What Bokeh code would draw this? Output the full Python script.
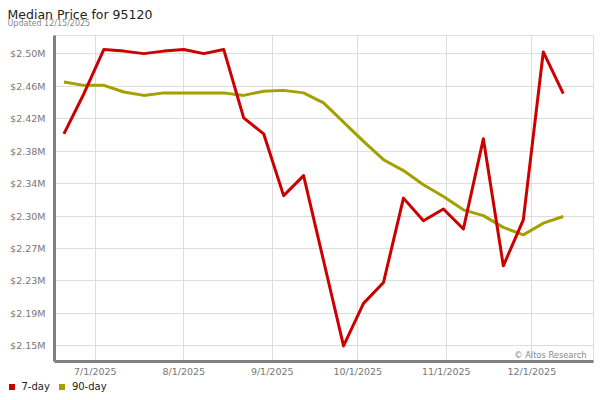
import numpy as np
import pandas as pd
from bokeh.plotting import figure
from bokeh.layouts import column
from bokeh.models import (ColumnDataSource, FixedTicker, Label, Legend, LegendItem, Range1d)
from bokeh.embed import file_html
from bokeh.resources import INLINE

# ---------------- data ----------------
dates = ["2025-06-20", "2025-06-27", "2025-07-04", "2025-07-11", "2025-07-18", "2025-07-25",
         "2025-08-01", "2025-08-08", "2025-08-15", "2025-08-22", "2025-08-29", "2025-09-05",
         "2025-09-12", "2025-09-19", "2025-09-26", "2025-10-03", "2025-10-10", "2025-10-17",
         "2025-10-24", "2025-10-31", "2025-11-07", "2025-11-14", "2025-11-21", "2025-11-28",
         "2025-12-05", "2025-12-12"]
price_7day = [2404000, 2452000, 2505000, 2503000, 2500000, 2503000, 2505000, 2500000, 2505000,
              2423000, 2404000, 2330000, 2354000, 2252000, 2150000, 2201000, 2226000, 2327000,
              2300000, 2314000, 2290000, 2398000, 2246000, 2301000, 2502000, 2452000]
price_90day = [2466000, 2462000, 2462000, 2454000, 2450000, 2453000, 2453000, 2453000, 2453000,
               2450000, 2455000, 2456000, 2453000, 2441000, 2418000, 2395000, 2373000, 2360000,
               2343000, 2329000, 2313000, 2306000, 2292000, 2283000, 2297000, 2305000]
x_tick_labels = ["7/1/2025", "8/1/2025", "9/1/2025", "10/1/2025", "11/1/2025", "12/1/2025"]
y_tick_labels = ["$2.15M", "$2.19M", "$2.23M", "$2.27M", "$2.30M", "$2.34M", "$2.38M",
                 "$2.42M", "$2.46M", "$2.50M"]
series_names = ["7-day", "90-day"]
title_text = "Median Price for 95120"
subtitle_text = "Updated 12/15/2025"
credit_text = "\u00a9 Altos Research"

# ---------------- helpers ----------------
def to_ms(ts):
    return (pd.to_datetime(ts).astype("int64") // 10**6).astype(float)

x_ms = list(to_ms(pd.Series(dates)))
x_ticks = list(to_ms(pd.Series(pd.to_datetime(x_tick_labels, format="%m/%d/%Y"))))
y_ticks = list(np.linspace(2150000, 2500000, len(y_tick_labels)))

DAY = 86400000.0
x_start = x_ms[0] - 3.3 * DAY
x_end = x_ms[-1] + 10.6 * DAY

src = ColumnDataSource(dict(x=x_ms, a=price_7day, b=price_90day))

RED = "#cc0000"
OLIVE = "#a3a000"
FONT = "DejaVu Sans"


def no_frame_align(fig):
    if "frame_align" in fig.properties():
        fig.frame_align = False


def strip(height):
    f = figure(width=600, height=height, output_backend="svg", toolbar_location=None, title=None,
               x_range=Range1d(0, 1), y_range=Range1d(0, 1),
               x_axis_location=None, y_axis_location=None,
               min_border=0, min_border_left=0, min_border_right=0, min_border_top=0,
               min_border_bottom=0, outline_line_color=None,
               background_fill_color="white", border_fill_color="white")
    f.xgrid.visible = False
    f.ygrid.visible = False
    no_frame_align(f)
    return f


# ---------------- header ----------------
head = strip(35)
head.add_layout(Label(x=7, y=21.5, x_units="screen", y_units="screen", text=title_text,
                      text_font=FONT, text_font_size="12.5px", text_color="#222222",
                      text_baseline="alphabetic"))
head.add_layout(Label(x=7, y=12, x_units="screen", y_units="screen", text=subtitle_text,
                      text_font=FONT, text_font_size="8px", text_color="#888888",
                      text_baseline="alphabetic"))

# ---------------- main plot ----------------
p = figure(width=600, height=344, output_backend="svg", toolbar_location=None, title=None,
           x_range=Range1d(x_start, x_end), y_range=Range1d(2131400, 2521700),
           min_border_left=54, min_border_right=7, min_border_top=0, min_border_bottom=15,
           background_fill_color="white", border_fill_color="white",
           outline_line_color="#dddddd", outline_line_width=1)
no_frame_align(p)

for ax in (p.xaxis[0], p.yaxis[0]):
    ax.axis_line_color = "#808080"
    ax.axis_line_width = 3
    ax.major_tick_line_color = None
    ax.minor_tick_line_color = None
    ax.major_tick_out = 0
    ax.major_tick_in = 0
    ax.major_label_text_font = FONT
    ax.major_label_text_font_size = "9.5px"
    ax.major_label_text_color = "#777777"

p.xaxis.ticker = FixedTicker(ticks=x_ticks)
p.xaxis.major_label_overrides = {t: l for t, l in zip(x_ticks, x_tick_labels)}
p.xaxis.major_label_standoff = 4
p.yaxis.ticker = FixedTicker(ticks=y_ticks)
p.yaxis.major_label_overrides = {t: l for t, l in zip(y_ticks, y_tick_labels)}
p.yaxis.major_label_standoff = 9

p.xgrid.grid_line_color = "#dddddd"
p.ygrid.grid_line_color = "#dddddd"

p.line("x", "b", source=src, line_width=3, line_color=OLIVE, line_join="round")
p.line("x", "a", source=src, line_width=3, line_color=RED, line_join="round")

p.add_layout(Label(x=532, y=7, x_units="screen", y_units="screen", text=credit_text,
                   text_font=FONT, text_font_size="8.3px", text_color="#888888",
                   text_align="right", text_baseline="alphabetic"))

# ---------------- legend strip ----------------
leg = strip(21)
# series drawn as square markers far outside this strip's ranges: only their legend swatch shows
s1 = leg.scatter("x", "a", source=src, marker="square", fill_color=RED, line_color=None)
s2 = leg.scatter("x", "b", source=src, marker="square", fill_color=OLIVE, line_color=None)
legend = Legend(items=[LegendItem(label=series_names[0], renderers=[s1]),
                       LegendItem(label=series_names[1], renderers=[s2])],
                orientation="horizontal", location=(3.5, 6.5),
                glyph_width=15, glyph_height=15, label_standoff=3, spacing=4,
                padding=0, margin=0, border_line_color=None, background_fill_alpha=0,
                label_text_font=FONT, label_text_font_size="10px", label_text_color="#222222",
                label_height=12)
leg.add_layout(legend, "center")

layout = column(head, p, leg, spacing=0)
open("out.html", "w").write(file_html(layout, INLINE))
